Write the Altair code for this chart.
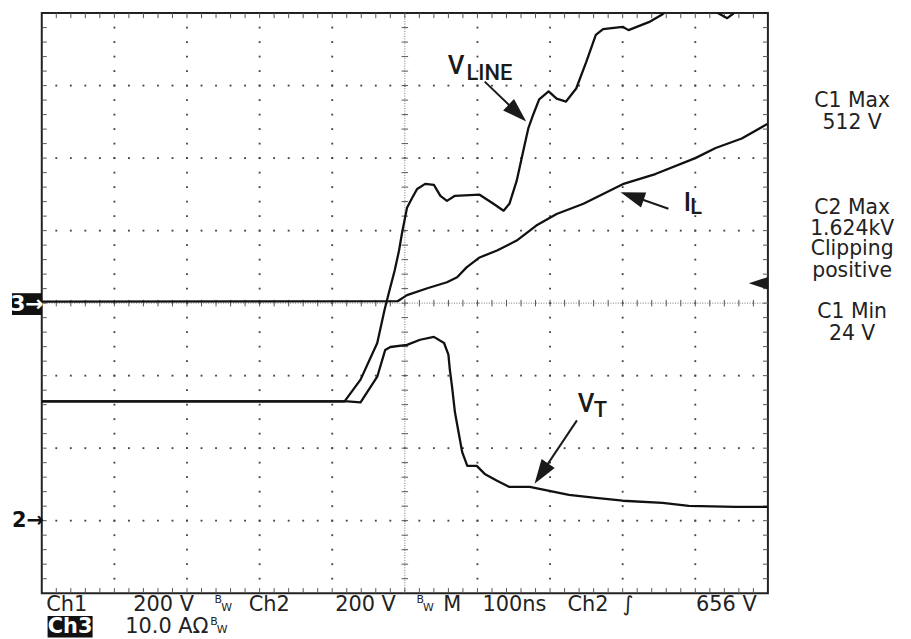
import altair as alt
import pandas as pd

# ---- oscilloscope settings ----
NS_PER_DIV = 100
V_PER_DIV = 200        # Ch1 and Ch2
A_PER_DIV = 10         # Ch3
CH12_GROUND_DIV = 1
CH3_GROUND_DIV = 4
X_DIVS = 10
Y_DIVS = 8

# ---- traces (time in ns, values in V / A) ----
vt_t = [0, 421, 439, 462, 473, 480, 503, 521, 540, 554, 560, 562, 565, 569, 575, 579, 586, 599,
        610, 627, 644, 672, 699, 726, 763, 800, 855, 891, 955, 1000]
vt_v = [329, 329, 326, 397, 471, 479, 485, 499, 507, 490, 458, 416, 370, 299, 233, 189, 151, 151,
        129, 110, 93, 93, 82, 71, 63, 55, 49, 41, 38, 38]

vline_t = [0, 417, 439, 462, 472, 479, 486, 492, 496, 503, 510, 517, 528, 540, 549, 558, 569, 603,
           622, 636, 644, 654, 663, 670, 677, 685, 698, 709, 722, 736, 750, 763, 773, 800, 808,
           836, 855, 873, 900, 928, 931, 944, 952, 962, 1000]
vline_v = [329, 329, 389, 490, 581, 636, 690, 745, 792, 863, 890, 915, 929, 926, 896, 882, 896, 899,
           874, 855, 874, 937, 1019, 1082, 1121, 1162, 1184, 1164, 1156, 1192, 1266, 1340, 1356, 1362, 1353,
           1375, 1397, 1430, 1444, 1425, 1400, 1386, 1398, 1430, 1471]

il_t = [0, 490, 503, 531, 558, 572, 585, 603, 627, 654, 681, 709, 746, 800, 845, 900, 928, 964, 999]
il_a = [0.2, 0.27, 1.10, 2.05, 2.88, 3.56, 4.93, 6.30, 7.26, 8.63, 10.7, 12.3, 13.7, 16.4, 17.8,
        20.0, 21.4, 22.7, 24.7]

rows = []
for i, (t, v) in enumerate(zip(vt_t, vt_v)):
    rows.append(dict(series="VT", t=t, div=v / V_PER_DIV + CH12_GROUND_DIV, o=i))
for i, (t, v) in enumerate(zip(vline_t, vline_v)):
    rows.append(dict(series="VLINE", t=t, div=v / V_PER_DIV + CH12_GROUND_DIV, o=i))
for i, (t, a) in enumerate(zip(il_t, il_a)):
    rows.append(dict(series="IL", t=t, div=a / A_PER_DIV + CH3_GROUND_DIV, o=i))
traces = pd.DataFrame(rows)

T_MAX = NS_PER_DIV * X_DIVS
xs = alt.Scale(domain=[0, T_MAX], nice=False, zero=False)
ys = alt.Scale(domain=[0, Y_DIVS], nice=False, zero=False)


def X(f):
    return alt.X(f, type="quantitative", scale=xs, axis=None)


def Y(f):
    return alt.Y(f, type="quantitative", scale=ys, axis=None)


# ---- graticule ----
minor_t = [i * NS_PER_DIV / 5 for i in range(1, X_DIVS * 5)]
minor_d = [j * 0.2 for j in range(1, Y_DIVS * 5)]
dots = []
for k in range(1, X_DIVS):
    if k == X_DIVS // 2:
        continue
    for d in minor_d:
        dots.append(dict(t=k * NS_PER_DIV, div=d))
for m in range(1, Y_DIVS):
    if m == Y_DIVS // 2:
        continue
    for t in minor_t:
        dots.append(dict(t=t, div=m))
dots = pd.DataFrame(dots)

EDGE_T = 6.8
EDGE_D = 0.07
CEN_T = 4.5
CEN_D = 0.045
ticks = []
for t in minor_t:
    ticks.append(dict(x=t, x2=t, y=0, y2=EDGE_D))
    ticks.append(dict(x=t, x2=t, y=Y_DIVS, y2=Y_DIVS - EDGE_D))
    ticks.append(dict(x=t, x2=t, y=4 - CEN_D, y2=4 + CEN_D))
for d in minor_d:
    ticks.append(dict(x=0, x2=EDGE_T, y=d, y2=d))
    ticks.append(dict(x=T_MAX, x2=T_MAX - EDGE_T, y=d, y2=d))
    ticks.append(dict(x=500 - CEN_T, x2=500 + CEN_T, y=d, y2=d))
ticks = pd.DataFrame(ticks)

center = pd.DataFrame([dict(x=500, x2=500, y=0, y2=Y_DIVS), dict(x=0, x2=T_MAX, y=4, y2=4)])

dot_layer = alt.Chart(dots).mark_square(size=3.5, color="#444", opacity=1).encode(x=X("t"), y=Y("div"))
tick_layer = alt.Chart(ticks).mark_rule(color="#555", strokeWidth=1).encode(
    x=X("x"), x2="x2", y=Y("y"), y2="y2")
center_layer = alt.Chart(center).mark_rule(color="#777", strokeWidth=1, strokeDash=[1, 1.5]).encode(
    x=X("x"), x2="x2", y=Y("y"), y2="y2")

trace_layer = alt.Chart(traces).mark_line(color="#111", strokeWidth=2.3, clip=True,
                                          strokeJoin="round").encode(
    x=X("t"), y=Y("div"), detail="series:N", order="o:Q")

# ---- arrows ----
arrow_rows = [
    dict(a="VLINE", t=610, div=7.055, o=0), dict(a="VLINE", t=652, div=6.65, o=1),
    dict(a="IL", t=863, div=5.301, o=0), dict(a="IL", t=815, div=5.47, o=1),
    dict(a="VT", t=737, div=2.383, o=0), dict(a="VT", t=690, div=1.68, o=1),
    dict(a="TRIG", t=985, div=4.274, o=0), dict(a="TRIG", t=1000, div=4.274, o=1),
]
arrows = pd.DataFrame(arrow_rows)
# arrow heads: (t, div, angle in degrees clockwise from up, size)
head_specs = [(655, 6.62, 133.5, 600), (813, 5.476, 289, 600), (688, 1.65, 214, 600),
              (987, 4.274, 270, 380)]

shaft_layer = alt.Chart(arrows).mark_line(color="#1a1a1a", strokeWidth=2).encode(
    x=X("t"), y=Y("div"), detail="a:N", order="o:Q")
head_layers = []
for ht, hd, ha, hs in head_specs:
    hdf = pd.DataFrame([dict(t=ht, div=hd)])
    head_layers.append(
        alt.Chart(hdf).mark_point(shape="M0,-1L0.65,1L-0.65,1Z", filled=True, size=hs,
                                  angle=ha, color="#1a1a1a", fill="#1a1a1a", opacity=1,
                                  strokeWidth=0).encode(x=X("t"), y=Y("div"))
    )

# ---- trace labels ----
labels = pd.DataFrame([
    dict(txt="V", t=559, div=7.164, fs=26), dict(txt="LINE", t=585, div=7.082, fs=22),
    dict(txt="V", t=738, div=2.493, fs=26), dict(txt="T", t=760, div=2.425, fs=22),
    dict(txt="I", t=884, div=5.274, fs=26), dict(txt="L", t=893, div=5.233, fs=22),
])
label_layer = alt.Chart(labels).mark_text(align="left", baseline="alphabetic", font="Roboto",
                                          fontWeight=500, color="#1a1a1a").encode(
    x=X("t"), y=Y("div"), text="txt:N", size=alt.Size("fs:Q", scale=None))

# ---- right side readouts ----
side_lines = ["C1 Max", "512 V", "C2 Max", "1.624kV", "Clipping", "positive", "C1 Min", "24 V"]
side_div = [6.699, 6.397, 5.233, 4.945, 4.658, 4.356, 3.795, 3.493]
side = pd.DataFrame(dict(txt=side_lines, div=side_div, t=[1116] * len(side_lines)))
side_layer = alt.Chart(side).mark_text(align="center", baseline="alphabetic", font="DejaVu Sans",
                                       fontSize=20.5, color="#222").encode(
    x=X("t"), y=Y("div"), text="txt:N")

# ---- bottom readouts ----
bottom = pd.DataFrame([
    dict(txt="Ch1", t=6, div=-0.247, fs=21),
    dict(txt="200 V", t=126, div=-0.247, fs=21),
    dict(txt="B", t=238, div=-0.135, fs=11),
    dict(txt="W", t=247, div=-0.25, fs=11),
    dict(txt="Ch2", t=285, div=-0.247, fs=21),
    dict(txt="200 V", t=404, div=-0.247, fs=21),
    dict(txt="B", t=516, div=-0.135, fs=11),
    dict(txt="W", t=525, div=-0.25, fs=11),
    dict(txt="M", t=553, div=-0.247, fs=21),
    dict(txt="100ns", t=607, div=-0.247, fs=21),
    dict(txt="Ch2", t=724, div=-0.247, fs=21),
    dict(txt="\u222b", t=800, div=-0.247, fs=21),
    dict(txt="656 V", t=901, div=-0.247, fs=21),
    dict(txt="10.0 A\u03a9", t=115, div=-0.548, fs=21),
    dict(txt="B", t=232, div=-0.436, fs=11),
    dict(txt="W", t=241, div=-0.551, fs=11),
])
bottom_layer = alt.Chart(bottom).mark_text(align="left", baseline="alphabetic", font="DejaVu Sans",
                                           color="#222").encode(
    x=X("t"), y=Y("div"), text="txt:N", size=alt.Size("fs:Q", scale=None))

# ---- channel markers ----
boxes = pd.DataFrame([
    dict(x=-41, x2=0, y=3.836, y2=4.137),
    dict(x=8, x2=70, y=-0.315, y2=-0.61),
])
box_layer = alt.Chart(boxes).mark_rect(color="#111").encode(x=X("x"), x2="x2", y=Y("y"), y2="y2")
box_text = pd.DataFrame([
    dict(txt="3\u2192", t=-20.5, div=3.986, fs=22),
    dict(txt="Ch3", t=39, div=-0.462, fs=21),
])
box_text_layer = alt.Chart(box_text).mark_text(align="center", baseline="middle", font="DejaVu Sans",
                                               fontWeight="bold", color="white").encode(
    x=X("t"), y=Y("div"), text="txt:N", size=alt.Size("fs:Q", scale=None))
marks = pd.DataFrame([
    dict(txt="2\u2192", t=-41, div=1.0, fs=21),
])
mark_layer = alt.Chart(marks).mark_text(align="left", baseline="middle", font="DejaVu Sans",
                                        fontWeight="bold", color="#111").encode(
    x=X("t"), y=Y("div"), text="txt:N", size=alt.Size("fs:Q", scale=None))

chart = alt.layer(
    dot_layer, center_layer, tick_layer, trace_layer, shaft_layer, *head_layers, label_layer,
    side_layer, bottom_layer, box_layer, box_text_layer, mark_layer,
).properties(
    width=731, height=584,
    autosize=alt.AutoSizeParams(type="none"),
    padding={"left": 34, "top": 3, "right": 136, "bottom": 44},
    background="white",
).configure_view(stroke="#222", strokeWidth=2)

chart.save("out.html", embed_options={"renderer": "svg", "actions": False})
